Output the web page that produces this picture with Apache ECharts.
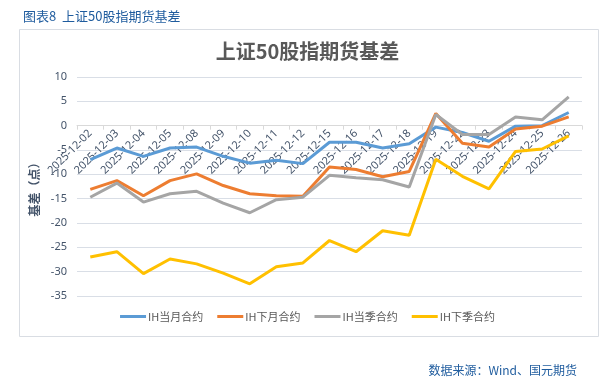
<!DOCTYPE html>
<html>
<head>
<meta charset="utf-8">
<script src="https://cdn.jsdelivr.net/npm/echarts@6/dist/echarts.min.js"></script>
<style>html,body{margin:0;padding:0;background:#fff;}#c{width:615px;height:388px;}</style>
</head>
<body>
<div id="c"></div>
<script>
const categories = ['2025-12-02','2025-12-03','2025-12-04','2025-12-05','2025-12-08','2025-12-09','2025-12-10','2025-12-11','2025-12-12','2025-12-15','2025-12-16','2025-12-17','2025-12-18','2025-12-19','2025-12-22','2025-12-23','2025-12-24','2025-12-25','2025-12-26'];
const ihCurrentMonth = [-7.0,-4.6,-6.3,-4.6,-4.4,-6.3,-7.7,-7.1,-7.8,-3.4,-3.4,-4.6,-3.7,-0.3,-1.4,-3.2,-0.1,0.0,2.7];
const ihNextMonth = [-13.1,-11.3,-14.4,-11.3,-9.9,-12.3,-14.0,-14.4,-14.5,-8.5,-9.0,-10.5,-9.4,2.5,-3.6,-4.4,-0.7,-0.1,1.8];
const ihCurrentQuarter = [-14.7,-11.8,-15.7,-14.0,-13.5,-15.9,-17.9,-15.2,-14.7,-10.2,-10.7,-11.1,-12.6,2.3,-1.8,-1.8,1.8,1.2,5.9];
const ihNextQuarter = [-27.0,-25.9,-30.4,-27.4,-28.4,-30.3,-32.5,-29.0,-28.2,-23.6,-25.9,-21.6,-22.5,-6.9,-10.4,-13.0,-5.3,-4.8,-2.1];
const seriesNames = ['IH当月合约','IH下月合约','IH当季合约','IH下季合约'];
const colors = ['#5B9BD5','#ED7D31','#A5A5A5','#FFC000'];
const yMin = -35, yMax = 10, yInterval = 5;

const gridTop = 77, gridBottom = 92, H = 388;
const plotH = H - gridTop - gridBottom;
const zeroOffset = -plotH * (0 - yMin) / (yMax - yMin);

const chart = echarts.init(document.getElementById('c'), null, {renderer:'canvas'});
const data = [ihCurrentMonth, ihNextMonth, ihCurrentQuarter, ihNextQuarter];
chart.setOption({
  animation: false,
  backgroundColor: '#fff',
  graphic: [
    {type:'rect', shape:{x:19.5, y:29.5, width:579, height:307}, style:{fill:'none', stroke:'#D9DDE3', lineWidth:1}, z:-1}
  ],
  title: [
    {text:'图表8  上证50股指期货基差', left:18, top:5, textStyle:{fontFamily:'Noto Sans CJK SC', fontSize:13, fontWeight:'normal', color:'#1F5C9E'}},
    {text:'上证50股指期货基差', left:'center', top:36, textStyle:{fontFamily:'Noto Sans CJK SC', fontSize:20, fontWeight:'bold', color:'#595959'}},
    {text:'数据来源：Wind、国元期货', right:33, top:359, textStyle:{fontFamily:'Noto Sans CJK SC', fontSize:12, fontWeight:'normal', color:'#1F5C9E'}}
  ],
  grid: {left:77, right:33, top:gridTop, bottom:gridBottom, containLabel:false},
  legend: {
    bottom: 61, left:'center', itemWidth:26, itemHeight:3, itemGap:14,
    icon:'rect',
    textStyle:{fontFamily:'Noto Sans CJK SC', fontSize:11, color:'#595959', padding:[0,0,0,-3]},
    data: seriesNames
  },
  xAxis: {
    type:'category', data:categories, boundaryGap:true,
    offset: zeroOffset,
    axisLine:{onZero:false, lineStyle:{color:'#D9D9D9'}},
    axisTick:{show:true, alignWithLabel:false, length:4, lineStyle:{color:'#D9D9D9'}},
    axisLabel:{rotate:45, interval:0, fontSize:11, color:'#44546A', fontFamily:'Noto Sans', margin:6}
  },
  yAxis: {
    type:'value', min:yMin, max:yMax, interval:yInterval,
    name:'基差（点）', nameLocation:'middle', nameGap:28,
    nameTextStyle:{fontFamily:'Noto Sans CJK SC', fontSize:12, fontWeight:'bold', color:'#44546A'},
    axisLine:{show:false}, axisTick:{show:false},
    axisLabel:{fontSize:11, color:'#44546A', fontFamily:'Noto Sans', margin:10},
    splitLine:{lineStyle:{color:'#D9DEE6'}}
  },
  series: seriesNames.map((n,i)=>({
    name:n, type:'line', data:data[i], symbol:'none', smooth:false,
    lineStyle:{width:3, color:colors[i]}, itemStyle:{color:colors[i]}
  }))
});
</script>
</body>
</html>
